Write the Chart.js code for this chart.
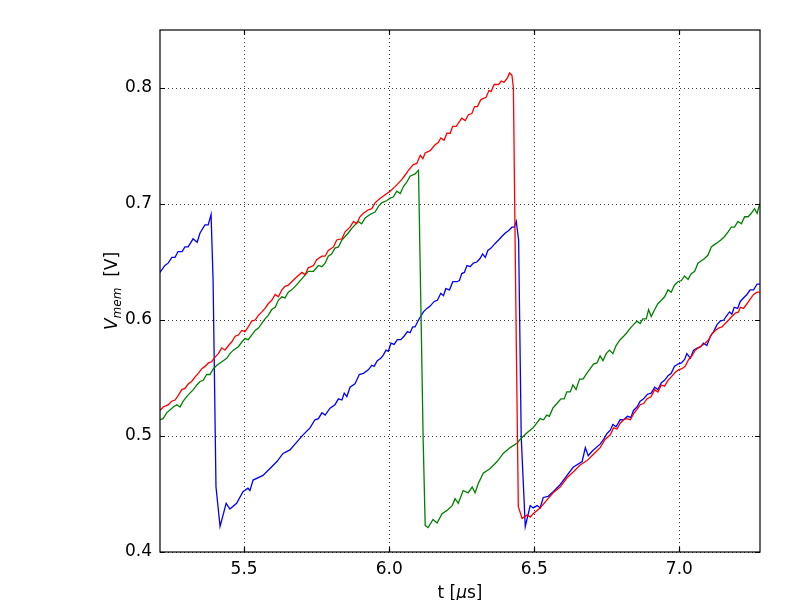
<!DOCTYPE html>
<html>
<head>
<meta charset="utf-8">
<script src="https://cdn.jsdelivr.net/npm/chart.js@4/dist/chart.umd.min.js"></script>
<style>
  html, body { margin: 0; padding: 0; background: #ffffff; }
  #wrap { width: 800px; height: 600px; }
</style>
</head>
<body>
<div id="wrap"><canvas id="chart" width="800" height="600"></canvas></div>
<script>
// Membrane voltage traces: [t in µs, V in volts]
const blueTrace = [
  [5.210,0.641],[5.227,0.647],[5.238,0.649],[5.251,0.654],[5.262,0.654],[5.272,0.659],[5.286,0.659],[5.296,0.663],
  [5.307,0.663],[5.324,0.670],[5.338,0.667],[5.348,0.675],[5.365,0.682],[5.376,0.682],[5.386,0.691],[5.393,0.634],
  [5.403,0.456],[5.417,0.422],[5.438,0.442],[5.451,0.437],[5.474,0.442],[5.496,0.452],[5.513,0.455],[5.520,0.453],
  [5.531,0.462],[5.565,0.466],[5.589,0.472],[5.613,0.478],[5.634,0.485],[5.658,0.488],[5.682,0.495],[5.703,0.501],
  [5.727,0.507],[5.744,0.514],[5.756,0.515],[5.768,0.520],[5.779,0.518],[5.796,0.524],[5.813,0.527],[5.825,0.532],
  [5.837,0.531],[5.845,0.537],[5.854,0.534],[5.865,0.542],[5.882,0.545],[5.897,0.553],[5.911,0.554],[5.928,0.557],
  [5.940,0.561],[5.948,0.560],[5.959,0.565],[5.971,0.567],[5.980,0.570],[5.989,0.574],[5.997,0.573],[6.006,0.580],
  [6.017,0.579],[6.028,0.583],[6.040,0.583],[6.051,0.586],[6.063,0.590],[6.072,0.589],[6.081,0.594],[6.089,0.594],
  [6.101,0.600],[6.118,0.607],[6.130,0.610],[6.141,0.612],[6.155,0.616],[6.166,0.617],[6.178,0.623],[6.187,0.621],
  [6.195,0.627],[6.208,0.626],[6.219,0.633],[6.233,0.633],[6.242,0.634],[6.250,0.640],[6.259,0.641],[6.268,0.647],
  [6.279,0.646],[6.290,0.649],[6.302,0.650],[6.313,0.653],[6.322,0.657],[6.331,0.654],[6.340,0.660],[6.351,0.662],
  [6.365,0.666],[6.377,0.669],[6.388,0.672],[6.400,0.675],[6.411,0.677],[6.423,0.680],[6.431,0.680],[6.438,0.685],
  [6.446,0.669],[6.455,0.499],[6.469,0.422],[6.486,0.440],[6.496,0.438],[6.510,0.440],[6.520,0.438],[6.531,0.447],
  [6.548,0.448],[6.565,0.452],[6.589,0.458],[6.613,0.466],[6.634,0.473],[6.665,0.478],[6.676,0.490],[6.686,0.483],
  [6.700,0.487],[6.727,0.493],[6.739,0.497],[6.750,0.502],[6.762,0.505],[6.771,0.510],[6.782,0.508],[6.796,0.514],
  [6.808,0.514],[6.821,0.517],[6.833,0.516],[6.842,0.522],[6.854,0.525],[6.865,0.530],[6.877,0.532],[6.890,0.536],
  [6.903,0.537],[6.915,0.542],[6.926,0.540],[6.938,0.546],[6.949,0.548],[6.961,0.552],[6.972,0.554],[6.983,0.560],
  [6.995,0.562],[7.007,0.563],[7.018,0.566],[7.026,0.571],[7.038,0.567],[7.049,0.574],[7.063,0.576],[7.074,0.577],
  [7.083,0.580],[7.095,0.578],[7.107,0.586],[7.118,0.590],[7.130,0.596],[7.141,0.599],[7.153,0.600],[7.164,0.604],
  [7.173,0.607],[7.181,0.605],[7.189,0.611],[7.201,0.610],[7.210,0.616],[7.221,0.619],[7.233,0.622],[7.244,0.626],
  [7.256,0.626],[7.268,0.631],[7.279,0.631]
];

const redTrace = [
  [5.210,0.522],[5.221,0.525],[5.239,0.527],[5.250,0.530],[5.262,0.531],[5.273,0.535],[5.285,0.540],[5.296,0.541],
  [5.308,0.545],[5.319,0.547],[5.331,0.551],[5.342,0.554],[5.354,0.558],[5.365,0.560],[5.377,0.563],[5.388,0.564],
  [5.400,0.568],[5.411,0.571],[5.423,0.576],[5.434,0.574],[5.446,0.578],[5.457,0.581],[5.469,0.586],[5.480,0.587],
  [5.492,0.591],[5.503,0.590],[5.514,0.594],[5.526,0.599],[5.538,0.600],[5.549,0.604],[5.561,0.607],[5.572,0.610],
  [5.583,0.614],[5.595,0.617],[5.607,0.622],[5.618,0.620],[5.630,0.626],[5.641,0.629],[5.652,0.630],[5.664,0.633],
  [5.681,0.637],[5.699,0.641],[5.710,0.639],[5.721,0.645],[5.739,0.647],[5.750,0.652],[5.768,0.655],[5.779,0.655],
  [5.790,0.660],[5.808,0.663],[5.819,0.669],[5.837,0.670],[5.848,0.676],[5.865,0.680],[5.877,0.685],[5.888,0.683],
  [5.899,0.689],[5.911,0.692],[5.928,0.695],[5.940,0.696],[5.951,0.701],[5.969,0.705],[5.986,0.708],[6.003,0.711],
  [6.020,0.715],[6.032,0.718],[6.043,0.721],[6.055,0.725],[6.066,0.729],[6.083,0.734],[6.095,0.735],[6.107,0.742],
  [6.116,0.739],[6.124,0.744],[6.141,0.746],[6.158,0.751],[6.169,0.753],[6.178,0.757],[6.189,0.755],[6.199,0.761],
  [6.210,0.761],[6.219,0.767],[6.231,0.767],[6.250,0.774],[6.262,0.772],[6.273,0.777],[6.285,0.778],[6.294,0.784],
  [6.304,0.784],[6.316,0.790],[6.334,0.792],[6.344,0.798],[6.351,0.797],[6.362,0.803],[6.377,0.803],[6.386,0.806],
  [6.396,0.805],[6.408,0.809],[6.415,0.813],[6.423,0.811],[6.428,0.800],[6.438,0.580],[6.445,0.439],[6.458,0.429],
  [6.476,0.432],[6.486,0.430],[6.496,0.433],[6.520,0.438],[6.544,0.445],[6.565,0.451],[6.589,0.456],[6.613,0.464],
  [6.634,0.469],[6.658,0.475],[6.683,0.479],[6.703,0.484],[6.727,0.490],[6.744,0.497],[6.762,0.501],[6.773,0.507],
  [6.785,0.506],[6.796,0.511],[6.808,0.514],[6.819,0.515],[6.831,0.514],[6.842,0.519],[6.854,0.523],[6.865,0.527],
  [6.877,0.528],[6.888,0.532],[6.903,0.534],[6.915,0.540],[6.926,0.538],[6.938,0.544],[6.949,0.543],[6.961,0.548],
  [6.972,0.551],[6.986,0.555],[6.997,0.557],[7.009,0.558],[7.020,0.560],[7.032,0.566],[7.043,0.569],[7.055,0.574],
  [7.066,0.576],[7.078,0.578],[7.089,0.580],[7.101,0.583],[7.112,0.588],[7.124,0.591],[7.135,0.593],[7.147,0.594],
  [7.158,0.597],[7.170,0.600],[7.181,0.603],[7.193,0.606],[7.204,0.607],[7.210,0.611],[7.221,0.610],[7.233,0.614],
  [7.244,0.618],[7.256,0.622],[7.268,0.624],[7.279,0.624]
];

const greenTrace = [
  [5.210,0.514],[5.221,0.515],[5.233,0.520],[5.256,0.525],[5.268,0.527],[5.279,0.525],[5.290,0.530],[5.302,0.534],
  [5.313,0.537],[5.325,0.540],[5.337,0.544],[5.348,0.547],[5.359,0.548],[5.371,0.553],[5.382,0.553],[5.394,0.558],
  [5.406,0.561],[5.423,0.564],[5.440,0.567],[5.451,0.571],[5.463,0.574],[5.480,0.577],[5.492,0.581],[5.503,0.584],
  [5.514,0.583],[5.526,0.587],[5.538,0.591],[5.549,0.593],[5.561,0.597],[5.572,0.601],[5.583,0.604],[5.595,0.609],
  [5.607,0.611],[5.618,0.617],[5.630,0.620],[5.641,0.619],[5.652,0.624],[5.664,0.626],[5.676,0.629],[5.704,0.637],
  [5.721,0.642],[5.739,0.642],[5.756,0.647],[5.768,0.646],[5.779,0.649],[5.790,0.655],[5.802,0.657],[5.813,0.662],
  [5.825,0.663],[5.837,0.669],[5.848,0.672],[5.859,0.675],[5.871,0.679],[5.882,0.682],[5.893,0.685],[5.905,0.683],
  [5.917,0.688],[5.934,0.691],[5.951,0.693],[5.963,0.698],[5.974,0.701],[5.992,0.703],[6.003,0.705],[6.014,0.706],
  [6.026,0.711],[6.038,0.709],[6.049,0.715],[6.061,0.719],[6.072,0.724],[6.089,0.726],[6.101,0.729],[6.110,0.600],
  [6.117,0.497],[6.124,0.423],[6.134,0.421],[6.151,0.428],[6.165,0.425],[6.182,0.433],[6.200,0.436],[6.217,0.440],
  [6.227,0.446],[6.238,0.442],[6.255,0.453],[6.272,0.451],[6.286,0.456],[6.296,0.451],[6.307,0.459],[6.324,0.468],
  [6.348,0.472],[6.372,0.478],[6.393,0.485],[6.417,0.490],[6.441,0.494],[6.451,0.497],[6.476,0.503],[6.496,0.507],
  [6.520,0.515],[6.532,0.514],[6.543,0.518],[6.552,0.517],[6.564,0.524],[6.578,0.528],[6.592,0.532],[6.603,0.532],
  [6.612,0.538],[6.624,0.538],[6.633,0.544],[6.644,0.540],[6.656,0.549],[6.668,0.549],[6.681,0.554],[6.693,0.558],
  [6.704,0.562],[6.716,0.563],[6.727,0.569],[6.737,0.565],[6.748,0.571],[6.759,0.574],[6.771,0.571],[6.782,0.578],
  [6.796,0.583],[6.808,0.586],[6.819,0.589],[6.831,0.593],[6.842,0.596],[6.854,0.599],[6.865,0.597],[6.874,0.601],
  [6.886,0.601],[6.894,0.609],[6.903,0.603],[6.915,0.609],[6.926,0.614],[6.938,0.617],[6.949,0.620],[6.961,0.626],
  [6.972,0.624],[6.983,0.630],[6.995,0.633],[7.007,0.634],[7.018,0.638],[7.030,0.635],[7.041,0.640],[7.053,0.642],
  [7.064,0.649],[7.076,0.651],[7.087,0.653],[7.099,0.656],[7.110,0.663],[7.121,0.665],[7.133,0.667],[7.143,0.669],
  [7.156,0.672],[7.168,0.676],[7.179,0.680],[7.190,0.680],[7.202,0.685],[7.214,0.683],[7.225,0.689],[7.237,0.689],
  [7.248,0.692],[7.259,0.696],[7.268,0.692],[7.276,0.699],[7.279,0.701]
];

const xTicks = [5.5, 6.0, 6.5, 7.0];
const yTicks = [0.4, 0.5, 0.6, 0.7, 0.8];

const toPoints = trace => trace.map(p => ({ x: p[0], y: p[1] }));

// Dotted grid, box, inward tick marks and axis titles, matplotlib classic look
const framePlugin = {
  id: 'frame',
  beforeDatasetsDraw(chart) {
    const { ctx, chartArea: a, scales } = chart;
    ctx.save();
    ctx.strokeStyle = '#000';
    ctx.lineWidth = 0.8;
    ctx.setLineDash([1, 3]);
    xTicks.forEach(v => {
      const px = Math.round(scales.x.getPixelForValue(v)) + 0.5;
      ctx.beginPath(); ctx.moveTo(px, a.top); ctx.lineTo(px, a.bottom); ctx.stroke();
    });
    yTicks.forEach(v => {
      const py = Math.round(scales.y.getPixelForValue(v)) + 0.5;
      ctx.beginPath(); ctx.moveTo(a.left, py); ctx.lineTo(a.right, py); ctx.stroke();
    });
    ctx.restore();
  },
  afterDatasetsDraw(chart) {
    const { ctx, chartArea: a, scales } = chart;
    ctx.save();
    ctx.strokeStyle = '#000';
    ctx.lineWidth = 1.2;
    ctx.setLineDash([]);
    ctx.strokeRect(a.left, a.top, a.right - a.left, a.bottom - a.top);
    const len = 5;
    xTicks.forEach(v => {
      const px = Math.round(scales.x.getPixelForValue(v)) + 0.5;
      ctx.beginPath();
      ctx.moveTo(px, a.bottom); ctx.lineTo(px, a.bottom - len);
      ctx.moveTo(px, a.top); ctx.lineTo(px, a.top + len);
      ctx.stroke();
    });
    yTicks.forEach(v => {
      const py = Math.round(scales.y.getPixelForValue(v)) + 0.5;
      ctx.beginPath();
      ctx.moveTo(a.left, py); ctx.lineTo(a.left + len, py);
      ctx.moveTo(a.right, py); ctx.lineTo(a.right - len, py);
      ctx.stroke();
    });

    // x title: t [µs]
    ctx.fillStyle = '#000';
    ctx.textBaseline = 'alphabetic';
    ctx.textAlign = 'left';
    const fN = '17px "DejaVu Sans"', fI = 'italic 17px "DejaVu Sans"';
    const parts = [['t [', fN], ['\u03bc', fI], ['s]', fN]];
    let w = 0;
    parts.forEach(p => { ctx.font = p[1]; w += ctx.measureText(p[0]).width; });
    let x = (a.left + a.right) / 2 - w / 2;
    parts.forEach(p => { ctx.font = p[1]; ctx.fillText(p[0], x, 598); x += ctx.measureText(p[0]).width; });

    // y title: V_mem [V]
    ctx.translate(117, (a.top + a.bottom) / 2);
    ctx.rotate(-Math.PI / 2);
    const yParts = [['V', fI, 0], ['mem', 'italic 12px "DejaVu Sans"', 4], ['  [V]', fN, 0]];
    w = 0;
    yParts.forEach(p => { ctx.font = p[1]; w += ctx.measureText(p[0]).width; });
    x = -w / 2;
    yParts.forEach(p => { ctx.font = p[1]; ctx.fillText(p[0], x, p[2]); x += ctx.measureText(p[0]).width; });
    ctx.restore();
  }
};

const ctx = document.getElementById('chart').getContext('2d');
new Chart(ctx, {
  type: 'line',
  data: {
    datasets: [
      { label: 'red', data: toPoints(redTrace), borderColor: '#ff0000' },
      { label: 'green', data: toPoints(greenTrace), borderColor: '#008000' },
      { label: 'blue', data: toPoints(blueTrace), borderColor: '#0000ff' }
    ]
  },
  options: {
    responsive: false,
    animation: false,
    elements: {
      line: { borderWidth: 1.3, tension: 0, fill: false },
      point: { radius: 0, hoverRadius: 0 }
    },
    layout: { padding: { top: 30, right: 40, left: 0, bottom: 0 } },
    plugins: { legend: { display: false }, tooltip: { enabled: false } },
    scales: {
      x: {
        type: 'linear',
        min: 5.21,
        max: 7.278,
        afterBuildTicks: s => { s.ticks = xTicks.map(v => ({ value: v })); },
        afterFit: s => { s.height = 48; },
        grid: { display: false, drawTicks: false },
        border: { display: false },
        ticks: {
          color: '#000',
          padding: 7,
          maxRotation: 0,
          font: { family: '"DejaVu Sans"', size: 17 },
          callback: v => v.toFixed(1)
        }
      },
      y: {
        type: 'linear',
        min: 0.4,
        max: 0.85,
        afterBuildTicks: s => { s.ticks = yTicks.map(v => ({ value: v })); },
        afterFit: s => { s.width = 160; },
        grid: { display: false, drawTicks: false },
        border: { display: false },
        ticks: {
          color: '#000',
          padding: 8,
          font: { family: '"DejaVu Sans"', size: 17 },
          callback: v => v.toFixed(1)
        }
      }
    }
  },
  plugins: [framePlugin]
});
</script>
</body>
</html>
